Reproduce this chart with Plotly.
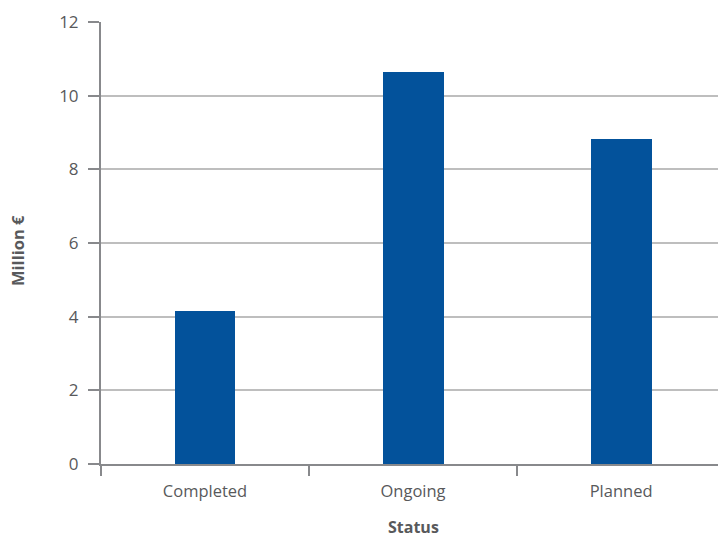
import plotly.graph_objects as go

# Funding by project status
categories = ["Completed", "Ongoing", "Planned"]
values = [4.16, 10.65, 8.83]
y_ticks = [0, 2, 4, 6, 8, 10, 12]

BAR_COLOR = "#03529B"
AXIS_COLOR = "#88898C"
GRID_COLOR = "#BEBEBE"
TEXT_COLOR = "#58595B"
FONT = "Open Sans, Lato, sans-serif"

fig = go.Figure(
    go.Bar(
        x=categories,
        y=values,
        width=0.293,
        marker=dict(color=BAR_COLOR, line=dict(width=0)),
        hoverinfo="x+y",
    )
)

fig.update_layout(
    width=718,
    height=538,
    margin=dict(l=101, r=0, t=22, b=74),
    paper_bgcolor="white",
    plot_bgcolor="white",
    showlegend=False,
    font=dict(family=FONT, size=16, color=TEXT_COLOR),
    bargap=0,
)

fig.update_xaxes(
    type="category",
    range=[-0.5, 2.466],
    tickson="boundaries",
    ticks="outside",
    ticklen=10,
    tickwidth=2,
    tickcolor=AXIS_COLOR,
    showline=True,
    linecolor=AXIS_COLOR,
    linewidth=2,
    showgrid=False,
    zeroline=False,
    tickfont=dict(size=16.5, color=TEXT_COLOR),
    ticklabelstandoff=11,
)

fig.update_yaxes(
    range=[0, 12],
    tickvals=y_ticks,
    ticks="outside",
    ticklen=11,
    tickwidth=2,
    tickcolor=AXIS_COLOR,
    showline=True,
    linecolor=AXIS_COLOR,
    linewidth=2,
    showgrid=True,
    gridcolor=GRID_COLOR,
    gridwidth=1.5,
    zeroline=False,
    tickfont=dict(size=17, color=TEXT_COLOR),
    ticklabelstandoff=6,
)

# Axis titles, placed relative to the plot area (101..718 x 22..464 px)
plot_w = 718 - 101
plot_h = 538 - 22 - 74
fig.add_annotation(
    text="<b>Status</b>", x=1, xref="x",
    y=-(527 - 464) / plot_h, yref="paper", yanchor="middle",
    showarrow=False, borderpad=0, font=dict(size=16, color=TEXT_COLOR),
)
fig.add_annotation(
    text="<b>Million €</b>",
    x=-(101 - 18) / plot_w, xref="paper", xanchor="center",
    y=(464 - 251) / plot_h, yref="paper", yanchor="middle",
    showarrow=False, borderpad=0, textangle=-90,
    font=dict(size=16.5, color=TEXT_COLOR),
)

fig.write_html("out.html")
